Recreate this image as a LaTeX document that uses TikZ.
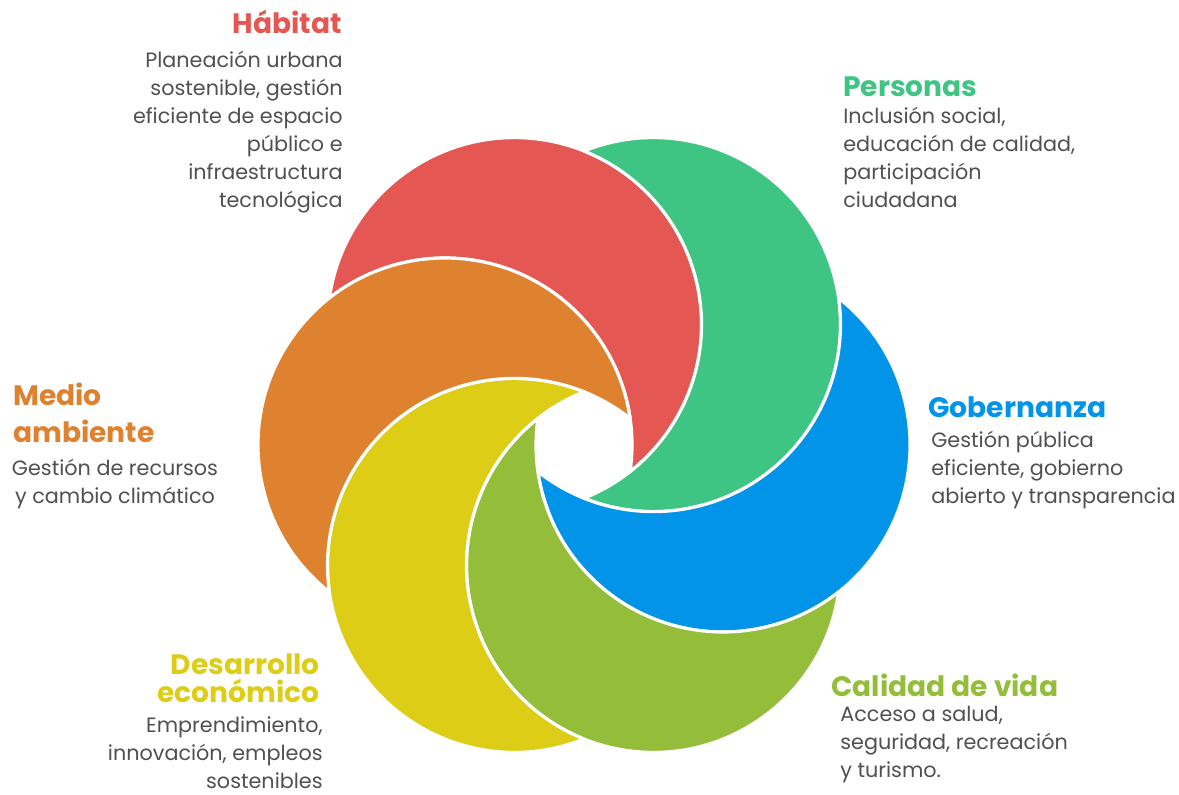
\documentclass[tikz,border=0pt]{standalone}
\usepackage{fontspec}
\setmainfont{Poppins}
\definecolor{habitat}{HTML}{E55753}
\definecolor{personas}{HTML}{3EC483}
\definecolor{gobernanza}{HTML}{0294E8}
\definecolor{calidad}{HTML}{94BD3A}
\definecolor{desarrollo}{HTML}{DDCD16}
\definecolor{medio}{HTML}{DE8230}
\definecolor{textgray}{HTML}{505050}
\tikzset{
heading/.style={font=\bfseries\fontsize{16}{20.5}\selectfont,inner sep=0pt},
body/.style={font=\fontsize{11.8}{15.9}\selectfont,text=textgray,inner sep=0pt},
petal/.style={draw=white,line width=1.8pt,line join=round}
}
\def\R{187}
\def\d{139}
\begin{document}
\begin{tikzpicture}[x=0.02cm,y=-0.02cm]
\useasboundingbox (0,0) rectangle (1179,794);
\pgfmathsetmacro\al{acos(\d/(2*\R))}
\begin{scope}[shift={(584,445)}]
\foreach \a/\c in {-120/habitat,-60/personas,0/gobernanza,60/calidad,120/desarrollo,180/medio}{
\filldraw[petal,fill=\c] (\a:\d) ++(\a-120+\al:\R) arc[start angle=\a-120+\al,end angle=\a+240-\al,radius=\R]
  arc[start angle=\a+60+\al,end angle=\a+60-\al,radius=\R] -- cycle;
}
\end{scope}
\node[heading,text=habitat,anchor=base east] (habitat) at (342,34) {Hábitat};
\node[body,align=right,anchor=base east] (habitatTxt) at (343,207) {Planeación urbana\\sostenible, gestión\\eficiente de espacio\\público e\\infraestructura\\tecnológica};
\node[heading,text=personas,anchor=base west] (personas) at (843,96) {Personas};
\node[body,align=left,anchor=base west] (personasTxt) at (843,207) {Inclusión social,\\educación de calidad,\\participación\\ciudadana};
\node[heading,text=gobernanza,anchor=base west] (gobernanza) at (928,417) {Gobernanza};
\node[body,align=left,anchor=base west] (gobernanzaTxt) at (931,503) {Gestión pública\\eficiente, gobierno\\abierto y transparencia};
\node[heading,text=calidad,anchor=base west] (calidad) at (831,696) {Calidad de vida};
\node[body,align=left,anchor=base west] (calidadTxt) at (840,777) {Acceso a salud,\\seguridad, recreación\\y turismo.};
\node[heading,text=desarrollo,align=right,anchor=base east,font=\bfseries\fontsize{16}{15.4}\selectfont] (desarrollo) at (320,702) {Desarrollo\\económico};
\node[body,align=right,anchor=base east] (desarrolloTxt) at (323,788) {Emprendimiento,\\innovación, empleos\\sostenibles};
\node[heading,text=medio,align=left,anchor=base west] (medio) at (13,442) {Medio\\ambiente};
\node[body,align=center,anchor=base] (medioTxt) at (115,503) {Gestión de recursos\\y cambio climático};
\end{tikzpicture}
\end{document}
